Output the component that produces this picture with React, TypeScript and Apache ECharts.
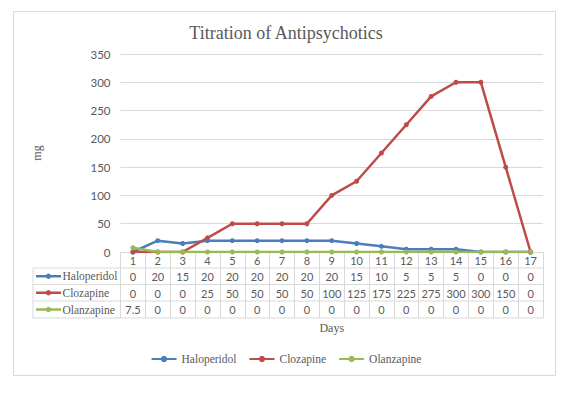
import React, { useEffect, useRef } from "react";
import * as echarts from "echarts";

const days = ["1", "2", "3", "4", "5", "6", "7", "8", "9", "10", "11", "12", "13", "14", "15", "16", "17"];
const haloperidol = [0, 20, 15, 20, 20, 20, 20, 20, 20, 15, 10, 5, 5, 5, 0, 0, 0];
const clozapine = [0, 0, 0, 25, 50, 50, 50, 50, 100, 125, 175, 225, 275, 300, 300, 150, 0];
const olanzapine = [7.5, 0, 0, 0, 0, 0, 0, 0, 0, 0, 0, 0, 0, 0, 0, 0, 0];
const seriesNames = ["Haloperidol", "Clozapine", "Olanzapine"];
const seriesValues = [haloperidol, clozapine, olanzapine];
const seriesColors = ["#4a7ebb", "#be4b48", "#98b954"];
const yMin = 0;
const yMax = 350;
const yInterval = 50;
const titleText = "Titration of Antipsychotics";
const xName = "Days";
const yName = "mg";

const SERIF = "'Liberation Serif', 'DejaVu Serif', serif";
const SANS = "Lato, 'Liberation Sans', sans-serif";
const GRAY = "#595959";
const LINE = "#d9d9d9";

const W = 572;
const H = 393;
const GRID_LEFT = 120.5;
const GRID_RIGHT = 543;
const GRID_TOP = 54;
const AXIS_Y = 252;
const ROW_OFFSETS = [16, 32.5, 49];
const TABLE_BOTTOM = 318;
const TABLE_LEFT = 33;

export default function App() {
  const ref = useRef<HTMLDivElement>(null);
  useEffect(() => {
    if (!ref.current) return;
    const chart = echarts.init(ref.current, undefined, { renderer: "svg" });

    const extraAxes = seriesValues.map((vals, i) => ({
      type: "category",
      gridIndex: 0,
      position: "bottom",
      offset: ROW_OFFSETS[i],
      data: days,
      boundaryGap: true,
      axisLine: { show: false },
      axisTick: { show: false },
      splitLine: { show: false },
      axisLabel: {
        interval: 0,
        margin: 3,
        color: GRAY,
        fontFamily: SANS,
        fontSize: 11,
        formatter: (_v: string, idx: number) => String(vals[idx]),
      },
    }));

    const rowLines = [...ROW_OFFSETS.map((o) => AXIS_Y + o), TABLE_BOTTOM].map((y) => ({
      type: "line",
      shape: { x1: TABLE_LEFT, y1: y, x2: GRID_RIGHT, y2: y },
      style: { stroke: LINE, lineWidth: 1 },
      silent: true,
    }));

    const rowKeys: any[] = [];
    seriesNames.forEach((name, i) => {
      const top = AXIS_Y + ROW_OFFSETS[i];
      const bottom = i < ROW_OFFSETS.length - 1 ? AXIS_Y + ROW_OFFSETS[i + 1] : TABLE_BOTTOM;
      const cy = (top + bottom) / 2;
      rowKeys.push({
        type: "line",
        shape: { x1: 36, y1: cy, x2: 61, y2: cy },
        style: { stroke: seriesColors[i], lineWidth: 2.5 },
      });
      rowKeys.push({
        type: "circle",
        shape: { cx: 48.5, cy, r: 2.7 },
        style: { fill: seriesColors[i] },
      });
      rowKeys.push({
        type: "text",
        x: 62.5,
        y: cy,
        style: {
          text: name,
          fill: GRAY,
          font: `11.5px ${SERIF}`,
          verticalAlign: "middle",
        },
      });
    });

    chart.setOption({
      animation: false,
      backgroundColor: "#ffffff",
      title: {
        text: titleText,
        left: "center",
        top: 19,
        textStyle: { fontFamily: SERIF, fontSize: 18, fontWeight: "normal", color: GRAY },
      },
      legend: {
        bottom: 23,
        left: "center",
        itemWidth: 25,
        itemHeight: 8,
        itemGap: 12,
        textStyle: { fontFamily: SERIF, fontSize: 11.5, color: GRAY },
        data: seriesNames,
      },
      grid: {
        left: GRID_LEFT,
        right: W - GRID_RIGHT,
        top: GRID_TOP,
        bottom: H - AXIS_Y,
      },
      xAxis: [
        {
          type: "category",
          data: days,
          boundaryGap: true,
          name: xName,
          nameLocation: "middle",
          nameGap: 70,
          nameTextStyle: { fontFamily: SERIF, fontSize: 12, color: GRAY },
          axisLine: { show: true, lineStyle: { color: LINE, width: 1 } },
          axisTick: {
            show: true,
            interval: 0,
            length: TABLE_BOTTOM - AXIS_Y,
            lineStyle: { color: LINE, width: 1 },
          },
          axisLabel: { interval: 0, margin: 3, color: GRAY, fontFamily: SANS, fontSize: 11 },
        },
        ...extraAxes,
      ],
      yAxis: {
        type: "value",
        min: yMin,
        max: yMax,
        interval: yInterval,
        name: yName,
        nameLocation: "middle",
        nameRotate: 90,
        nameGap: 78,
        nameTextStyle: { fontFamily: SERIF, fontSize: 12, color: GRAY },
        axisLine: { show: false },
        axisTick: { show: false },
        splitLine: { lineStyle: { color: LINE, width: 1 } },
        axisLabel: { margin: 10, color: GRAY, fontFamily: SANS, fontSize: 11.5 },
      },
      series: seriesNames.map((name, i) => ({
        name,
        type: "line",
        xAxisIndex: 0,
        data: seriesValues[i],
        symbol: "circle",
        symbolSize: 5,
        color: seriesColors[i],
        lineStyle: { width: 2.5, color: seriesColors[i] },
        itemStyle: { color: seriesColors[i] },
      })),
      graphic: [
        {
          type: "rect",
          shape: { x: 13.5, y: 11.5, width: 542, height: 364 },
          style: { fill: "none", stroke: LINE, lineWidth: 1 },
          silent: true,
          z: -10,
        },
        ...rowLines,
        {
          type: "line",
          shape: { x1: TABLE_LEFT, y1: AXIS_Y + ROW_OFFSETS[0], x2: TABLE_LEFT, y2: TABLE_BOTTOM },
          style: { stroke: LINE, lineWidth: 1 },
        },
        ...rowKeys,
      ],
    });
    return () => chart.dispose();
  }, []);
  return (
    <div
      ref={ref}
      style={{ position: "fixed", left: 0, top: 0, width: W, height: H, background: "#fff" }}
    />
  );
}
